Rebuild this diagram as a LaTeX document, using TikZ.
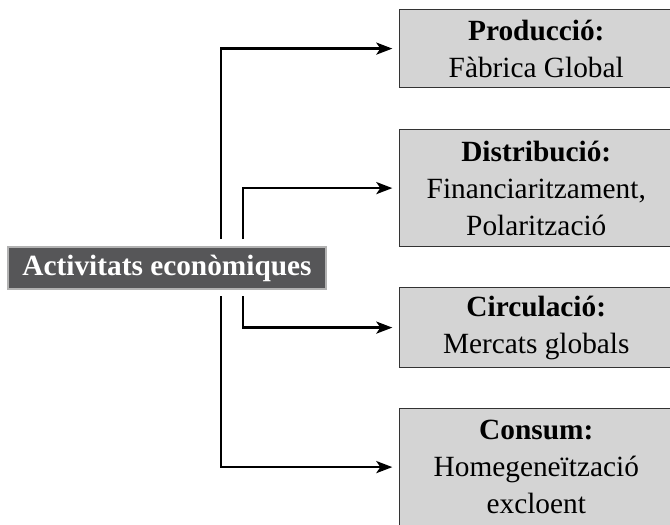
\documentclass[tikz,border=0pt]{standalone}
\usepackage{fontspec}
\setmainfont{Liberation Serif}
\usetikzlibrary{arrows.meta}
\definecolor{boxgray}{RGB}{212,212,212}
\definecolor{headgray}{RGB}{86,86,88}
\tikzset{every picture/.style={line width=0.75pt}}
\tikzset{
  topicbox/.style={draw=black!80, fill=boxgray, line width=0.9pt, anchor=north west,
    minimum width=205pt, inner sep=0pt, align=center,
    font=\fontsize{22}{27.75}\selectfont},
  headbox/.style={draw=black!30, fill=headgray, line width=0.9pt, text=white,
    minimum width=238.5pt, minimum height=31.5pt, inner sep=0pt,
    font=\fontsize{22}{27.75}\selectfont\bfseries},
  conn/.style={line width=2pt, -{Stealth[length=12pt,width=9pt,inset=3pt]}, shorten >=5pt}
}

\begin{document}
\begin{tikzpicture}[x=0.75pt,y=0.75pt,yscale=-1,xscale=1]
\useasboundingbox (0,0) rectangle (670,524);

%Shape: Rectangle (central)
\node[headbox] (act) at (167,268) {Activitats econòmiques};

%Shape: Rectangle (right column)
\node[topicbox, minimum height=58.5pt] (prod) at (399,9) {\textbf{Producció:}\\Fàbrica Global};
\node[topicbox, minimum height=87.75pt] (distr) at (399,129) {\textbf{Distribució:}\\Financiaritzament,\\Polarització};
\node[topicbox, minimum height=60pt] (circ) at (399,287) {\textbf{Circulació:}\\Mercats globals};
\node[topicbox, minimum height=87.75pt] (cons) at (399,408) {\textbf{Consum:}\\Homegeneïtzació\\excloent};

% line starts, a little off the central box
\coordinate (upA) at (221,239);
\coordinate (upB) at (243,239);
\coordinate (dnA) at (221,296);
\coordinate (dnB) at (243,296);

%Straight Lines
\draw[conn] (upA) |- (prod.west);
\draw[conn] (upB) |- (distr.west);
\draw[conn] (dnB) |- (circ.west);
\draw[conn] (dnA) |- (cons.west);

\end{tikzpicture}
\end{document}
